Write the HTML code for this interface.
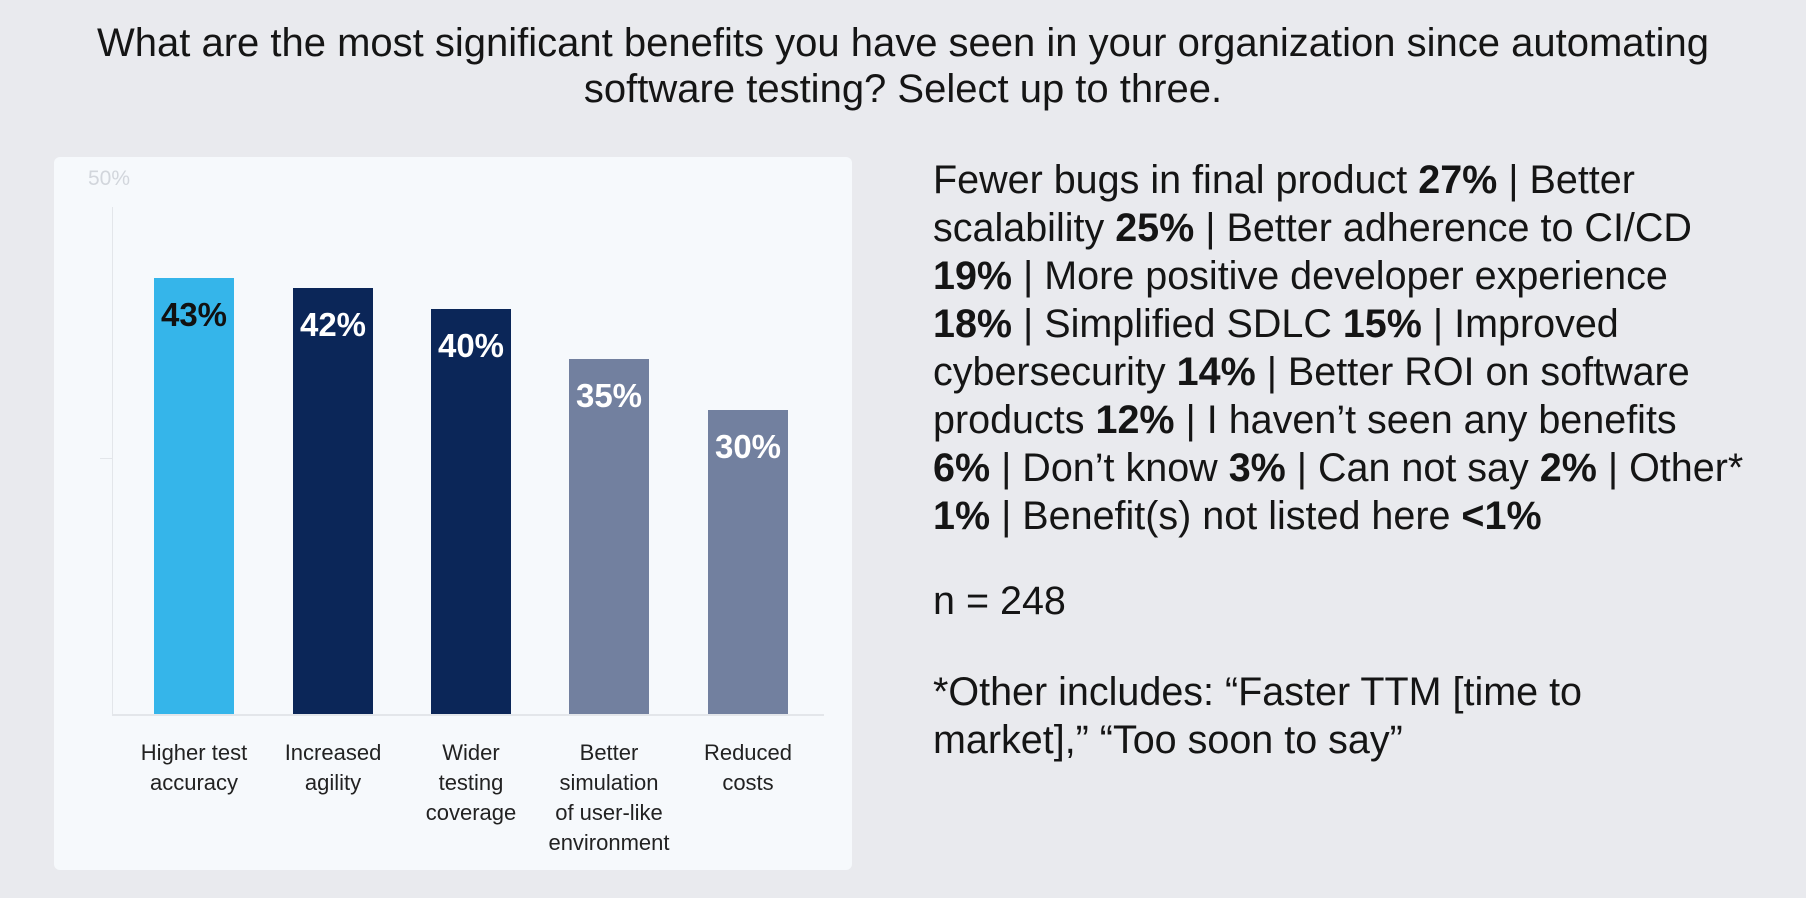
<!DOCTYPE html>
<html><head><style>
body{margin:0;width:1806px;height:898px;background:#e9eaee;font-family:"Liberation Sans",sans-serif;position:relative;overflow:hidden;color:#111}
.t{position:absolute;left:0;width:1806px;text-align:center;font-size:40px;line-height:46px;top:20px;color:#151515}
.card{position:absolute;left:54px;top:157px;width:798px;height:713px;background:#f6f9fc;border-radius:6px}
.bar{position:absolute;width:80px;bottom:156px}
.v{position:absolute;width:100%;text-align:center;font-weight:bold;font-size:33px;color:#fff;top:18px}
.c{position:absolute;width:150px;text-align:center;font-size:22px;line-height:30px;top:581px;color:#222}
.r{position:absolute;left:933px;font-size:39.5px;line-height:48px;color:#151515;white-space:nowrap}
</style></head><body>
<div class="t">What are the most significant benefits you have seen in your organization since automating<br>software testing? Select up to three.</div>
<div class="card">
 <div style="position:absolute;left:34px;top:10px;font-size:21px;color:#d2d6dc">50%</div>
 <div style="position:absolute;left:58px;top:50px;width:1px;height:508px;background:#e3e6ea"></div>
 <div style="position:absolute;left:46px;top:301px;width:12px;height:1px;background:#e3e6ea"></div>
 <div style="position:absolute;left:58px;top:557px;width:712px;height:2px;background:#e3e6ea"></div>
 <div class="bar" style="left:100px;height:436px;background:#35b5ea"><div class="v" style="color:#111">43%</div></div>
 <div class="bar" style="left:239px;height:426px;background:#0b2658"><div class="v">42%</div></div>
 <div class="bar" style="left:377px;height:405px;background:#0b2658"><div class="v">40%</div></div>
 <div class="bar" style="left:515px;height:355px;background:#72809f"><div class="v">35%</div></div>
 <div class="bar" style="left:654px;height:304px;background:#72809f"><div class="v">30%</div></div>
 <div class="c" style="left:65px">Higher test<br>accuracy</div>
 <div class="c" style="left:204px">Increased<br>agility</div>
 <div class="c" style="left:342px">Wider<br>testing<br>coverage</div>
 <div class="c" style="left:480px">Better<br>simulation<br>of user-like<br>environment</div>
 <div class="c" style="left:619px">Reduced<br>costs</div>
</div>
<div class="r" style="top:156px">Fewer bugs in final product <b>27%</b> | Better<br>scalability <b>25%</b> | Better adherence to CI/CD<br><b>19%</b> | More positive developer experience<br><b>18%</b> | Simplified SDLC <b>15%</b> | Improved<br>cybersecurity <b>14%</b> | Better ROI on software<br>products <b>12%</b> | I haven’t seen any benefits<br><b>6%</b> | Don’t know <b>3%</b> | Can not say <b>2%</b> | Other*<br><b>1%</b> | Benefit(s) not listed here <b>&lt;1%</b></div>
<div class="r" style="top:577px">n = 248</div>
<div class="r" style="top:668px">*Other includes: “Faster TTM [time to<br>market],” “Too soon to say”</div>
</body></html>
